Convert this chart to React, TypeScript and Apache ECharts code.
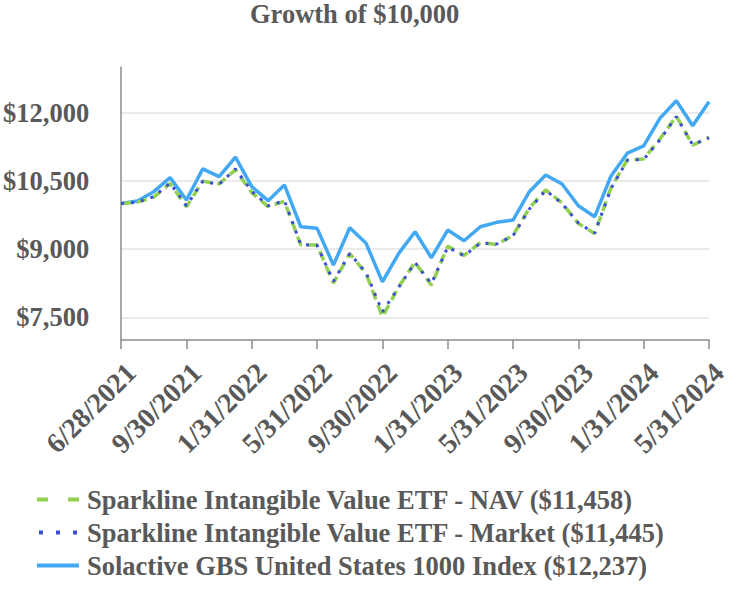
import React, { useEffect, useRef } from "react";
import * as echarts from "echarts";

const dates = [
  "6/28/2021", "6/30/2021", "7/31/2021", "8/31/2021", "9/30/2021", "10/31/2021", "11/30/2021", "12/31/2021",
  "1/31/2022", "2/28/2022", "3/31/2022", "4/30/2022", "5/31/2022", "6/30/2022", "7/31/2022", "8/31/2022",
  "9/30/2022", "10/31/2022", "11/30/2022", "12/31/2022", "1/31/2023", "2/28/2023", "3/31/2023", "4/30/2023",
  "5/31/2023", "6/30/2023", "7/31/2023", "8/31/2023", "9/30/2023", "10/31/2023", "11/30/2023", "12/31/2023",
  "1/31/2024", "2/29/2024", "3/31/2024", "4/30/2024", "5/31/2024",
];

const navValues = [
  10000, 10030, 10140, 10440, 9930, 10490, 10430, 10740,
  10240, 9930, 10050, 9090, 9090, 8250, 8900, 8460,
  7510, 8170, 8710, 8205, 9060, 8860, 9140, 9100,
  9300, 9900, 10300, 10010, 9560, 9340, 10350, 10960,
  10980, 11420, 11920, 11280, 11458,
];

const marketValues = [
  10000, 10030, 10150, 10450, 9950, 10490, 10420, 10760,
  10270, 9950, 10060, 9100, 9080, 8290, 8900, 8480,
  7620, 8160, 8700, 8240, 9040, 8850, 9130, 9110,
  9290, 9880, 10290, 10000, 9570, 9350, 10330, 10950,
  10970, 11400, 11910, 11290, 11445,
];

const indexValues = [
  10000, 10055, 10260, 10569, 10078, 10760, 10591, 11018,
  10370, 10062, 10408, 9489, 9454, 8646, 9467, 9124,
  8278, 8903, 9380, 8808, 9417, 9181, 9489, 9586,
  9637, 10260, 10628, 10430, 9952, 9710, 10606, 11106,
  11267, 11877, 12258, 11708, 12237,
];

const yTicks = [7500, 9000, 10500, 12000];

const seriesNames = [
  "Sparkline Intangible Value ETF - NAV ($11,458)",
  "Sparkline Intangible Value ETF - Market ($11,445)",
  "Solactive GBS United States 1000 Index ($12,237)",
];

const FONT = "'Liberation Serif', 'Times New Roman', serif";
const TEXT = "#595959";
const FS = 26.5;

const ICON_DASH = "path://M0,0h11v4h-11z M31,0h11v4h-11z";
const ICON_DOT = "path://M2,0h4v4h-4z M19,0h4v4h-4z M36,0h4v4h-4z M0,0h0.01v4h-0.01z M41.99,0h0.01v4h-0.01z";
const ICON_SOLID = "path://M0,0h42v4h-42z";

export default function App() {
  const ref = useRef<HTMLDivElement>(null);
  useEffect(() => {
    if (!ref.current) return;
    const chart = echarts.init(ref.current, undefined, { renderer: "svg" });
    chart.setOption({
      animation: false,
      backgroundColor: "#ffffff",
      title: {
        text: "Growth of $10,000",
        left: 250,
        top: 0,
        padding: 0,
        textStyle: { fontFamily: FONT, fontWeight: "bold", fontSize: FS, color: TEXT },
      },
      grid: { left: 117, right: 39, top: 67, bottom: 254, containLabel: false },
      legend: {
        orient: "vertical",
        left: 37,
        top: 486,
        padding: 0,
        itemWidth: 42,
        itemHeight: 4,
        itemGap: 6,
        textStyle: { fontFamily: FONT, fontWeight: "bold", fontSize: FS, color: TEXT, padding: [0, 0, 0, 3] },
        data: [
          { name: seriesNames[0], icon: ICON_DASH },
          { name: seriesNames[1], icon: ICON_DOT },
          { name: seriesNames[2], icon: ICON_SOLID },
        ],
      },
      xAxis: {
        type: "category",
        data: dates,
        boundaryGap: false,
        axisLine: { lineStyle: { color: "#8c8c8c", width: 1.5 } },
        axisTick: { show: true, interval: 3, length: 9, lineStyle: { color: "#8c8c8c", width: 1.5 } },
        axisLabel: {
          interval: 3,
          rotate: 45,
          margin: 18,
          verticalAlign: "top",
          fontFamily: FONT,
          fontWeight: "bold",
          fontSize: 28,
          color: TEXT,
        },
        splitLine: { show: false },
      },
      yAxis: {
        type: "value",
        min: 7000,
        max: 13000,
        axisLine: { show: true, lineStyle: { color: "#8c8c8c", width: 1.5 } },
        axisTick: { show: false, customValues: yTicks },
        axisLabel: {
          customValues: yTicks,
          margin: 32,
          fontFamily: FONT,
          fontWeight: "bold",
          fontSize: FS,
          color: TEXT,
          formatter: (v: number) => "$" + v.toLocaleString("en-US"),
        },
        splitLine: { show: true, lineStyle: { color: "#e3e3e3", width: 1.5 } },
      },
      series: [
        {
          name: seriesNames[0],
          type: "line",
          data: navValues,
          symbol: "none",
          z: 2,
          lineStyle: { color: "#92D050", width: 3.5, type: [10, 6] },
          itemStyle: { color: "#92D050" },
        },
        {
          name: seriesNames[1],
          type: "line",
          data: marketValues,
          symbol: "none",
          z: 3,
          lineStyle: { color: "#3B4FD4", width: 3, type: [3, 7] },
          itemStyle: { color: "#3B4FD4" },
        },
        {
          name: seriesNames[2],
          type: "line",
          data: indexValues,
          symbol: "none",
          z: 1,
          lineStyle: { color: "#42A8F2", width: 3.5, type: "solid" },
          itemStyle: { color: "#42A8F2" },
        },
      ],
    });
    return () => chart.dispose();
  }, []);
  return (
    <div
      ref={ref}
      style={{ position: "fixed", left: 0, top: 0, width: 748, height: 594, background: "#fff" }}
    />
  );
}
